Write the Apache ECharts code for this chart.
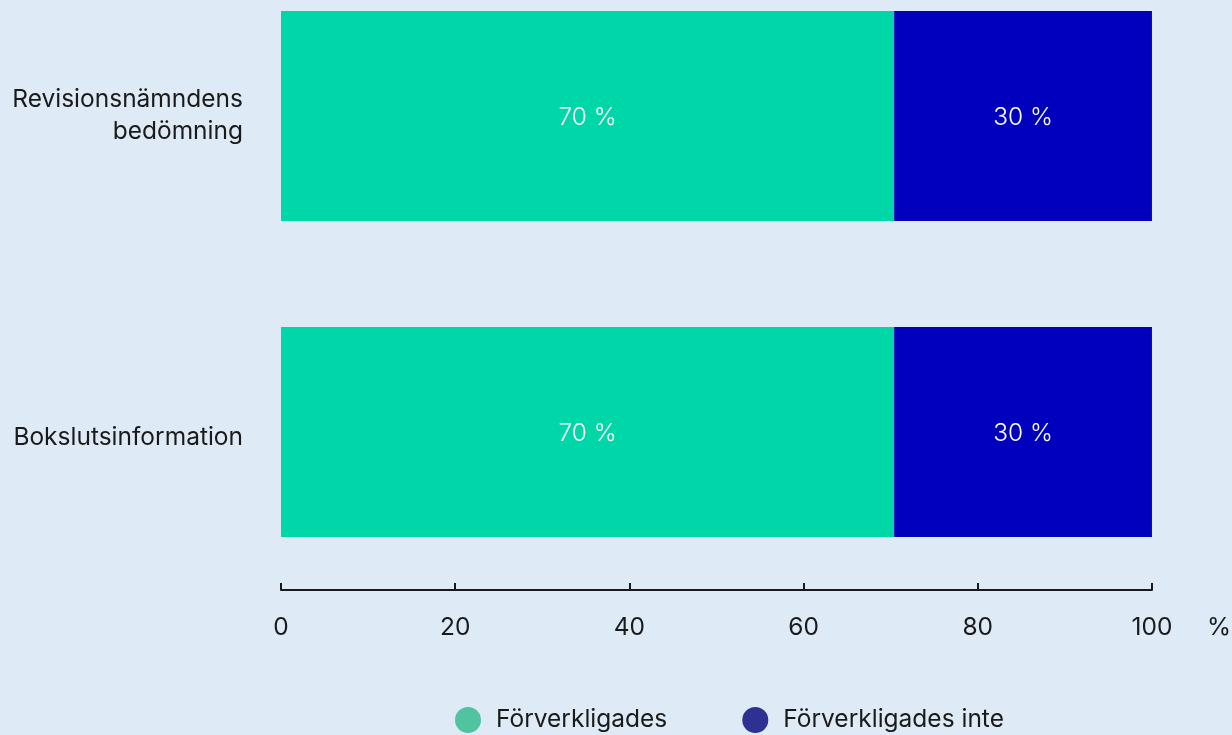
<!DOCTYPE html>
<html><head><meta charset="utf-8">
<script src="https://cdn.jsdelivr.net/npm/echarts@6/dist/echarts.min.js"></script>
<style>html,body{margin:0;padding:0;background:#deeaf6;}#c{width:1232px;height:735px;}</style>
</head><body><div id="c"></div>
<script>
const categories = ['Bokslutsinformation', 'Revisionsnämndens\nbedömning'];
const seriesNames = ['Förverkligades', 'Förverkligades inte'];
const realised = [70.4, 70.4];
const notRealised = [29.6, 29.6];
const xTicks = [0, 20, 40, 60, 80, 100];

const barColors = ['#00d7a8', '#0000bd'];
const legendColors = ['#52c3a0', '#2e3192'];
const font = 'Inter, "Noto Sans", sans-serif';
const fs = 24.5;
const chart = echarts.init(document.getElementById('c'));
const lbl = {show: true, position: 'inside', offset: [0, 2], color: '#ffffff', fontSize: fs, fontWeight: 300, fontFamily: font,
  formatter: p => Math.round(p.value) + ' %'};
chart.setOption({
  backgroundColor: '#deeaf6',
  animation: false,
  textStyle: {fontFamily: font},
  grid: {left: 281, right: 80, top: 116, bottom: 303, containLabel: false},
  xAxis: {
    type: 'value', min: xTicks[0], max: xTicks[xTicks.length-1], interval: 20,
    offset: 158,
    axisLine: {show: true, lineStyle: {color: '#1a1a1a', width: 2}},
    axisTick: {show: true, inside: true, length: 7, lineStyle: {color: '#1a1a1a', width: 2}},
    splitLine: {show: false},
    axisLabel: {margin: 25, fontSize: fs, color: '#1a1a1a', fontFamily: font},
    name: '%', nameLocation: 'end', nameGap: 55,
    nameTextStyle: {fontSize: fs, color: '#1a1a1a', fontFamily: font, verticalAlign: 'top', padding: [25, 0, 0, 0]}
  },
  yAxis: {
    type: 'category', boundaryGap: false, data: categories,
    axisLine: {show: false}, axisTick: {show: false},
    axisLabel: {margin: 38, fontSize: fs, lineHeight: 32, color: '#1a1a1a', fontFamily: font, align: 'right',
      formatter: (v, i) => i === 0 ? '{low|' + v + '}' : v,
      rich: {low: {fontSize: fs, lineHeight: 32, color: '#1a1a1a', fontFamily: font, padding: [12, 0, 0, 0]}}}
  },
  legend: {
    top: 702, left: 450, icon: 'circle', itemWidth: 26, itemHeight: 26, itemGap: 75,
    textStyle: {fontSize: fs, color: '#1a1a1a', fontFamily: font, padding: [0, 0, 0, 10]},
    data: seriesNames.map((n, i) => ({name: n, itemStyle: {color: legendColors[i]}}))
  },
  series: [
    {name: seriesNames[0], type: 'bar', stack: 't', data: realised, barWidth: 210, clip: false,
      itemStyle: {color: barColors[0]}, label: lbl},
    {name: seriesNames[1], type: 'bar', stack: 't', data: notRealised, barWidth: 210, clip: false,
      itemStyle: {color: barColors[1]}, label: lbl}
  ]
});
</script></body></html>
